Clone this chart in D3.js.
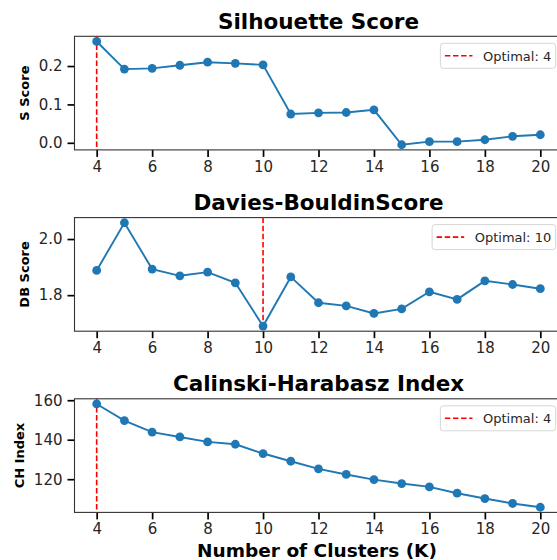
<!DOCTYPE html>
<html>
<head>
<meta charset="utf-8">
<script src="https://cdn.jsdelivr.net/npm/d3@7"></script>
<style>
  html, body { margin: 0; padding: 0; background: #fff; }
  svg { display: block; font-family: "DejaVu Sans", sans-serif; }
</style>
</head>
<body>
<svg id="chart" width="557" height="560"></svg>
<script>
// ---- data ----
const ks = [4, 5, 6, 7, 8, 9, 10, 11, 12, 13, 14, 15, 16, 17, 18, 19, 20];
const silhouette = [0.264, 0.192, 0.194, 0.202, 0.210, 0.207, 0.203, 0.075, 0.078, 0.079, 0.086, -0.005, 0.003, 0.003, 0.008, 0.017, 0.021];
const daviesBouldin = [1.888, 2.058, 1.893, 1.869, 1.882, 1.844, 1.690, 1.865, 1.773, 1.762, 1.735, 1.751, 1.812, 1.785, 1.851, 1.838, 1.823];
const calinski = [158.1, 149.7, 143.8, 141.4, 138.9, 137.7, 133.0, 129.1, 125.2, 122.4, 119.8, 117.8, 116.1, 112.9, 110.2, 107.7, 105.8];
const optimalK = [4, 10, 4];
const titles = ["Silhouette Score", "Davies-BouldinScore", "Calinski-Harabasz Index"];
const yLabels = ["S Score", "DB Score", "CH Index"];
const yTicks = [[0.0, 0.1, 0.2], [1.8, 2.0], [120, 140, 160]];
const yTickFormats = [".1f", ".1f", "d"];
const xTicks = [4, 6, 8, 10, 12, 14, 16, 18, 20];
const xLabel = "Number of Clusters (K)";
const seriesList = [silhouette, daviesBouldin, calinski];

// ---- layout ----
const svg = d3.select("#chart");
const plotLeft = 74.5, plotRight = 562.5;
const panelTops = [36.3, 217.6, 398.8];
const panelH = 113.6;
const blue = "#1f77b4";
const textColor = "#262626";

const xExt = d3.extent(ks);
const xPad = (xExt[1] - xExt[0]) * 0.05;
const x = d3.scaleLinear().domain([xExt[0] - xPad, xExt[1] + xPad]).range([plotLeft, plotRight]);

seriesList.forEach((vals, i) => {
  const top = panelTops[i], bottom = top + panelH;
  const ext = d3.extent(vals);
  const pad = (ext[1] - ext[0]) * 0.05;
  const y = d3.scaleLinear().domain([ext[0] - pad, ext[1] + pad]).range([bottom, top]);
  const g = svg.append("g");

  // x axis
  const xa = g.append("g")
    .attr("transform", `translate(0,${bottom})`)
    .call(d3.axisBottom(x).tickValues(xTicks).tickFormat(d3.format("d")).tickSize(7).tickPadding(4));
  // y axis
  const ya = g.append("g")
    .attr("transform", `translate(${plotLeft},0)`)
    .call(d3.axisLeft(y).tickValues(yTicks[i]).tickFormat(d3.format(yTickFormats[i])).tickSize(7).tickPadding(5));
  [xa, ya].forEach(a => {
    a.select(".domain").remove();
    a.selectAll(".tick line").attr("stroke", "#000").attr("stroke-width", 1.7);
    a.selectAll(".tick text").attr("fill", textColor).style("font-size", "15px").style("font-family", "DejaVu Sans");
  });

  // spines
  g.append("rect")
    .attr("x", plotLeft).attr("y", top)
    .attr("width", plotRight - plotLeft).attr("height", panelH)
    .attr("fill", "none").attr("stroke", "#333").attr("stroke-width", 1.1);

  // optimal line
  g.append("line")
    .attr("x1", x(optimalK[i])).attr("x2", x(optimalK[i]))
    .attr("y1", top).attr("y2", bottom)
    .attr("stroke", "#ff0000").attr("stroke-width", 1.6)
    .attr("stroke-dasharray", "5.5,2.6");

  // series line
  const line = d3.line().x((d, j) => x(ks[j])).y(d => y(d));
  g.append("path").datum(vals)
    .attr("d", line).attr("fill", "none")
    .attr("stroke", blue).attr("stroke-width", 1.9);
  g.selectAll("circle.pt").data(vals).join("circle")
    .attr("class", "pt")
    .attr("cx", (d, j) => x(ks[j])).attr("cy", d => y(d))
    .attr("r", 4.4).attr("fill", blue);

  // title
  g.append("text")
    .attr("x", (plotLeft + plotRight) / 2).attr("y", top - 7.8)
    .attr("text-anchor", "middle")
    .style("font-size", "21.5px").style("font-weight", "bold")
    .attr("fill", "#000")
    .text(titles[i]);

  // y label (placed left of the tick labels)
  const bb = ya.node().getBBox();
  const lx = plotLeft + bb.x - 9.5;
  g.append("text")
    .attr("transform", `translate(${lx},${(top + bottom) / 2}) rotate(-90)`)
    .attr("text-anchor", "middle")
    .style("font-size", "13px").style("font-weight", "bold")
    .attr("fill", "#000")
    .text(yLabels[i]);

  // legend
  const legRight = plotRight - 6.8, legTop = top + 7;
  const lg = g.append("g");
  const box = lg.append("rect");
  const txt = lg.append("text")
    .style("font-size", "13px").attr("fill", textColor)
    .text("Optimal: " + optimalK[i]);
  const tw = txt.node().getComputedTextLength();
  const boxW = 4.5 + 27.6 + 10.5 + tw + 4.5;
  const boxH = 25;
  const legLeft = legRight - boxW;
  box.attr("x", legLeft).attr("y", legTop).attr("width", boxW).attr("height", boxH)
    .attr("rx", 3).attr("fill", "#fff").attr("fill-opacity", 0.8)
    .attr("stroke", "#d6d6d6").attr("stroke-width", 1);
  lg.append("line")
    .attr("x1", legLeft + 4.5).attr("x2", legLeft + 4.5 + 27.6)
    .attr("y1", legTop + boxH / 2).attr("y2", legTop + boxH / 2)
    .attr("stroke", "#ff0000").attr("stroke-width", 1.6)
    .attr("stroke-dasharray", "5.5,2.6");
  txt.attr("x", legLeft + 4.5 + 27.6 + 10.5).attr("y", legTop + boxH / 2 + 4.7);
});

// x label
svg.append("text")
  .attr("x", 317).attr("y", 556.5)
  .attr("text-anchor", "middle")
  .style("font-size", "18.5px").style("font-weight", "bold")
  .attr("fill", "#000")
  .text(xLabel);
</script>
</body>
</html>
